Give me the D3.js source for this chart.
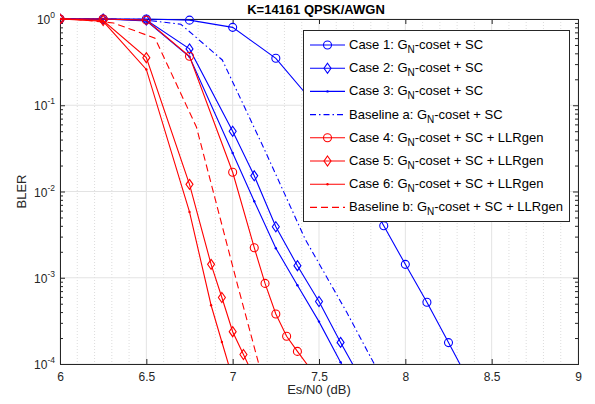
<!DOCTYPE html>
<html>
<head>
<meta charset="utf-8">
<script src="https://cdn.jsdelivr.net/npm/d3@7"></script>
<style>
body { margin: 0; background: #fff; }
text { font-family: "Liberation Sans", Arial, sans-serif; fill: #262626; }
</style>
</head>
<body>
<svg id="chart" width="595" height="404"></svg>
<script>
// BLER curves
var case1X = [6, 6.25, 6.5, 6.75, 7, 7.25, 7.5, 7.625, 7.75, 7.875, 8, 8.125, 8.25, 8.375];
var case1Y = [1, 1, 1, 0.97, 0.8, 0.35, 0.09, 0.032, 0.011, 0.004, 0.00143, 0.00052, 0.000177, 0.00006];

var case2X = [6, 6.25, 6.5, 6.75, 7, 7.125, 7.25, 7.375, 7.5, 7.625, 7.75];
var case2Y = [1, 1, 0.97, 0.45, 0.05, 0.0152, 0.0039, 0.00138, 0.00053, 0.000178, 0.000063];

var case3X = [6, 6.25, 6.5, 6.75, 7, 7.125, 7.25, 7.375, 7.5, 7.625, 7.75];
var case3Y = [1, 1, 0.95, 0.365, 0.028, 0.0077, 0.0022, 0.00082, 0.00031, 0.000105, 0.000035];

var baseAX = [5.98, 6.22, 6.46, 6.70, 6.94, 7.18, 7.42, 7.66, 7.90];
var baseAY = [1, 1, 0.99, 0.87, 0.335, 0.032, 0.0028, 0.0004, 0.00005];

var case4X = [6, 6.25, 6.5, 6.75, 7, 7.125, 7.1875, 7.25, 7.3125, 7.375, 7.4375];
var case4Y = [1, 1, 0.97, 0.37, 0.0167, 0.00223, 0.00086, 0.00038, 0.00021, 0.00014, 0.000095];

var case5X = [6, 6.25, 6.5, 6.75, 6.875, 6.9375, 7, 7.0625, 7.125];
var case5Y = [1, 0.96, 0.356, 0.0121, 0.00143, 0.00059, 0.000237, 0.000129, 0.00007];

var case6X = [6, 6.25, 6.5, 6.75, 6.875, 6.9375, 7];
var case6Y = [1, 0.94, 0.26, 0.0058, 0.00048, 0.00018, 0.000068];

var baseBX = [5.83, 6.07, 6.31, 6.55, 6.79, 7.03, 7.27];
var baseBY = [1, 1, 0.9, 0.6, 0.056, 0.0008, 0.000013];

var legendLabels = [
  ["Case 1: G", "N", "-coset + SC"],
  ["Case 2: G", "N", "-coset + SC"],
  ["Case 3: G", "N", "-coset + SC"],
  ["Baseline a: G", "N", "-coset + SC"],
  ["Case 4: G", "N", "-coset + SC + LLRgen"],
  ["Case 5: G", "N", "-coset + SC + LLRgen"],
  ["Case 6: G", "N", "-coset + SC + LLRgen"],
  ["Baseline b: G", "N", "-coset + SC + LLRgen"]
];

var xTicks = [6, 6.5, 7, 7.5, 8, 8.5, 9];
var yTicks = [1, 0.1, 0.01, 0.001, 0.0001];
var yExp = ["0", "-1", "-2", "-3", "-4"];

var series = [
  {x: case1X, y: case1Y, color: "#0000ff", marker: "circle", dash: null},
  {x: case2X, y: case2Y, color: "#0000ff", marker: "diamond", dash: null},
  {x: case3X, y: case3Y, color: "#0000ff", marker: "point", dash: null},
  {x: baseAX, y: baseAY, color: "#0000ff", marker: null, dash: "6,3,1.5,3"},
  {x: case4X, y: case4Y, color: "#ff0000", marker: "circle", dash: null},
  {x: case5X, y: case5Y, color: "#ff0000", marker: "diamond", dash: null},
  {x: case6X, y: case6Y, color: "#ff0000", marker: "point", dash: null},
  {x: baseBX, y: baseBY, color: "#ff0000", marker: null, dash: "7,4"}
];

var pL = 60, pR = 578, pT = 19, pB = 364;
var svg = d3.select("#chart");

var x = d3.scaleLinear().domain([6, 9]).range([pL, pR]);
var y = d3.scaleLog().domain([1e-4, 1]).range([pB, pT]);

// grid
var minorX = d3.range(6.1, 9, 0.1).filter(function(v){ return Math.abs(v*2 - Math.round(v*2)) > 0.01; });
svg.append("g").selectAll("line").data(minorX).enter().append("line")
  .attr("x1", function(d){ return x(d); }).attr("x2", function(d){ return x(d); })
  .attr("y1", pT).attr("y2", pB)
  .attr("stroke", "#d4d4d4").attr("stroke-width", 0.8).attr("stroke-dasharray", "1,2");

svg.append("g").selectAll("line").data(xTicks).enter().append("line")
  .attr("x1", function(d){ return x(d); }).attr("x2", function(d){ return x(d); })
  .attr("y1", pT).attr("y2", pB)
  .attr("stroke", "#e3e3e3").attr("stroke-width", 1);

svg.append("g").selectAll("line").data(yTicks).enter().append("line")
  .attr("y1", function(d){ return y(d); }).attr("y2", function(d){ return y(d); })
  .attr("x1", pL).attr("x2", pR)
  .attr("stroke", "#e3e3e3").attr("stroke-width", 1);

// axes (ticks inward, box all round)
var xAxis = d3.axisBottom(x).tickValues(xTicks).tickSize(-5).tickPadding(8)
  .tickFormat(function(d){ return d3.format("")(d); });
var gx = svg.append("g").attr("transform", "translate(0," + pB + ")").call(xAxis);
svg.append("g").attr("transform", "translate(0," + pT + ")")
  .call(d3.axisTop(x).tickValues(xTicks).tickSize(-5).tickFormat(""));

var minorY = [];
[1e-4, 1e-3, 1e-2, 1e-1].forEach(function(b){ for (var k = 2; k < 10; k++) minorY.push(b*k); });
svg.append("g").attr("transform", "translate(" + pL + ",0)")
  .call(d3.axisLeft(y).tickValues(yTicks).tickSize(-5).tickFormat(""));
svg.append("g").attr("transform", "translate(" + pL + ",0)")
  .call(d3.axisLeft(y).tickValues(minorY).tickSize(-3).tickFormat(""));
svg.append("g").attr("transform", "translate(" + pR + ",0)")
  .call(d3.axisRight(y).tickValues(yTicks).tickSize(-5).tickFormat(""));
svg.append("g").attr("transform", "translate(" + pR + ",0)")
  .call(d3.axisRight(y).tickValues(minorY).tickSize(-3).tickFormat(""));

svg.selectAll(".domain").attr("stroke", "#262626").attr("stroke-width", 1);
svg.selectAll(".tick line").attr("stroke", "#262626");
gx.selectAll("text").style("font-size", "12px").style("fill", "#262626");

// y tick labels with superscripts
var ylab = svg.append("g").selectAll("text").data(yTicks).enter().append("text")
  .attr("x", 55).attr("y", function(d){ return y(d) + 5; })
  .attr("text-anchor", "end").style("font-size", "12px");
ylab.append("tspan").text("10");
ylab.append("tspan").attr("dy", -6).style("font-size", "8.5px")
  .text(function(d, i){ return yExp[i]; });

// clip
svg.append("clipPath").attr("id", "plotclip").append("rect")
  .attr("x", pL).attr("y", pT - 6).attr("width", pR - pL).attr("height", pB - pT + 6);

var plot = svg.append("g").attr("clip-path", "url(#plotclip)");
var line = d3.line().x(function(d){ return x(d[0]); }).y(function(d){ return y(d[1]); });

function drawMarker(g, type, color, cx, cy) {
  if (type === "circle") {
    g.append("circle").attr("cx", cx).attr("cy", cy).attr("r", 4)
      .attr("fill", "none").attr("stroke", color).attr("stroke-width", 1.1);
  } else if (type === "diamond") {
    var s = 5;
    g.append("path").attr("d", "M" + cx + "," + (cy - s) + "L" + (cx + s*0.7) + "," + cy + "L" + cx + "," + (cy + s) + "L" + (cx - s*0.7) + "," + cy + "Z")
      .attr("fill", "none").attr("stroke", color).attr("stroke-width", 1.1);
  } else if (type === "point") {
    g.append("circle").attr("cx", cx).attr("cy", cy).attr("r", 1.2).attr("fill", color);
  }
}

series.forEach(function(s){
  var pts = s.x.map(function(v, i){ return [v, s.y[i]]; });
  plot.append("path").datum(pts).attr("d", line)
    .attr("fill", "none").attr("stroke", s.color).attr("stroke-width", 1.1)
    .attr("stroke-dasharray", s.dash);
  if (s.marker) {
    pts.forEach(function(p){
      if (p[0] >= 6 && p[1] >= 1e-4) drawMarker(plot, s.marker, s.color, x(p[0]), y(p[1]));
    });
  }
});

// legend
var lg = svg.append("g");
lg.append("rect").attr("x", 303.5).attr("y", 30.5).attr("width", 266).attr("height", 191)
  .attr("fill", "#fff").attr("stroke", "#262626").attr("stroke-width", 1);
series.forEach(function(s, i){
  var ly = 45 + i * 23.2;
  lg.append("line").attr("x1", 310).attr("x2", 345).attr("y1", ly).attr("y2", ly)
    .attr("stroke", s.color).attr("stroke-width", 1.1).attr("stroke-dasharray", s.dash);
  if (s.marker) drawMarker(lg, s.marker, s.color, 327.5, ly);
  var t = lg.append("text").attr("x", 349).attr("y", ly + 4).style("font-size", "13px").style("fill", "#000");
  t.append("tspan").text(legendLabels[i][0]);
  t.append("tspan").attr("dy", 4).style("font-size", "10px").text(legendLabels[i][1]);
  t.append("tspan").attr("dy", -4).text(legendLabels[i][2]);
});

// titles
svg.append("text").attr("x", 316).attr("y", 14).attr("text-anchor", "middle")
  .style("font-size", "13px").style("font-weight", "bold").style("fill", "#000").text("K=14161 QPSK/AWGN");
svg.append("text").attr("x", 319).attr("y", 394).attr("text-anchor", "middle")
  .style("font-size", "13px").text("Es/N0 (dB)");
svg.append("text").attr("transform", "translate(26," + ((pT + pB) / 2) + ") rotate(-90)")
  .attr("text-anchor", "middle").style("font-size", "13px").text("BLER");
</script>
</body>
</html>
